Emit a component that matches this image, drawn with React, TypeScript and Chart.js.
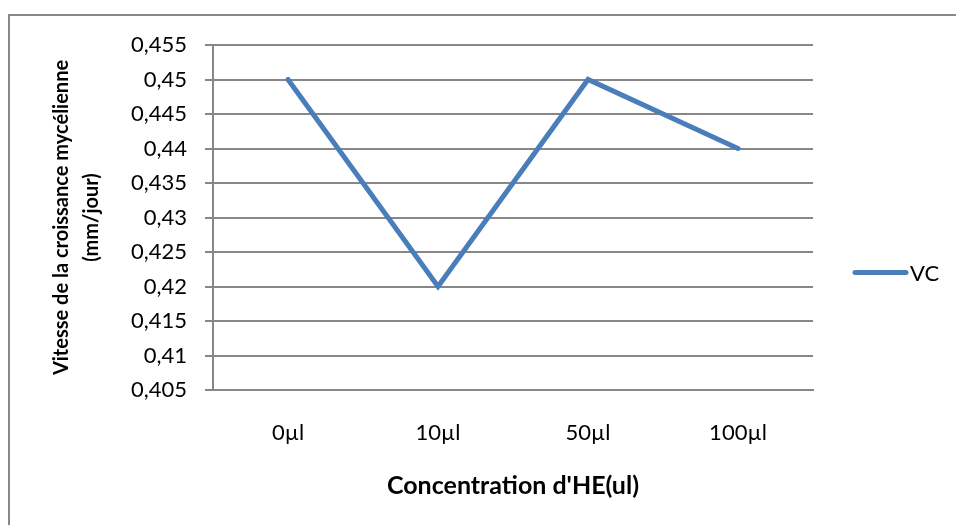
import React, { useEffect, useRef } from "react";
import { Chart, registerables } from "chart.js";

Chart.register(...registerables);

// Essential-oil concentrations and the measured mycelial growth speed
const categories = ["0µl", "10µl", "50µl", "100µl"];
const vcValues = [0.45, 0.42, 0.45, 0.44];
const yTicks = [0.405, 0.41, 0.415, 0.42, 0.425, 0.43, 0.435, 0.44, 0.445, 0.45, 0.455];
const seriesLabel = "VC";
const yTitle = ["Vitesse de la croissance mycélienne", "(mm/jour)"];
const xTitle = "Concentration d'HE(ul)";

const FONT = "Lato, 'Open Sans', sans-serif";
const GRID = "#878787";
const LINE = "#4a7ebb";

const fmt = (v: number) => String(Number(v.toFixed(3))).replace(".", ",");

// Frame around the chart plus a hand-drawn legend entry
const framePlugin = {
  id: "frame",
  beforeDraw(chart: any) {
    const ctx = chart.ctx;
    ctx.save();
    ctx.fillStyle = "#ffffff";
    ctx.fillRect(0, 0, chart.width, chart.height);
    ctx.strokeStyle = GRID;
    ctx.lineWidth = 2;
    ctx.beginPath();
    ctx.moveTo(9, 1000);
    ctx.lineTo(9, 15);
    ctx.lineTo(2000, 15);
    ctx.stroke();
    ctx.restore();
  },
  afterDraw(chart: any) {
    const ctx = chart.ctx;
    const ds = chart.data.datasets[0];
    const area = chart.chartArea;
    const y = (area.top + area.bottom) / 2 + 55;
    ctx.save();
    ctx.strokeStyle = ds.borderColor;
    ctx.lineWidth = 5;
    ctx.lineCap = "round";
    ctx.beginPath();
    ctx.moveTo(855, y);
    ctx.lineTo(906, y);
    ctx.stroke();
    ctx.fillStyle = "#000";
    ctx.font = `22px ${FONT}`;
    ctx.textBaseline = "middle";
    ctx.textAlign = "left";
    ctx.fillText(ds.label, 910, y + 1);
    ctx.restore();
  },
};

export default function App() {
  const ref = useRef<HTMLCanvasElement>(null);

  useEffect(() => {
    const canvas = ref.current;
    if (!canvas) return;
    const chart = new Chart(canvas, {
      type: "line",
      data: {
        labels: categories,
        datasets: [
          {
            label: seriesLabel,
            data: vcValues,
            borderColor: LINE,
            backgroundColor: LINE,
            borderWidth: 5,
            borderCapStyle: "round",
            borderJoinStyle: "miter",
            pointRadius: 0,
            tension: 0,
          },
        ],
      },
      options: {
        responsive: false,
        animation: false,
        layout: { padding: { left: 8, top: 45, right: 143, bottom: 0 } },
        plugins: {
          legend: { display: false },
          tooltip: { enabled: false },
        },
        scales: {
          x: {
            offset: true,
            grid: { display: false, drawTicks: false },
            border: { display: true, color: GRID, width: 2 },
            ticks: {
              color: "#000",
              padding: 30,
              font: { family: FONT, size: 22 },
            },
            title: {
              display: true,
              text: xTitle,
              color: "#000",
              font: { family: FONT, size: 25, weight: "bold", lineHeight: 1.2 },
              padding: { top: 0, bottom: 24 },
            },
            afterFit(scale: any) {
              scale.height = 135;
            },
          },
          y: {
            min: 0.405,
            max: 0.455,
            grid: { color: GRID, lineWidth: 2, tickLength: 8, drawTicks: true },
            border: { display: true, color: GRID, width: 2 },
            ticks: {
              color: "#000",
              padding: 18,
              font: { family: FONT, size: 22 },
              callback: (v: any) => fmt(Number(v)),
            },
            afterBuildTicks(scale: any) {
              scale.ticks = yTicks.map((v) => ({ value: v }));
            },
            title: {
              display: true,
              text: yTitle,
              color: "#000",
              font: { family: FONT, size: 20, weight: "bold", lineHeight: 1.5 },
              padding: { top: 39, bottom: 0 },
            },
            afterFit(scale: any) {
              scale.width = 205;
            },
          },
        },
      },
      plugins: [framePlugin],
    });
    return () => chart.destroy();
  }, []);

  return (
    <div style={{ position: "fixed", left: 0, top: 0, width: 956, height: 525, background: "#fff" }}>
      <canvas ref={ref} width={956} height={525} style={{ display: "block" }} />
    </div>
  );
}
